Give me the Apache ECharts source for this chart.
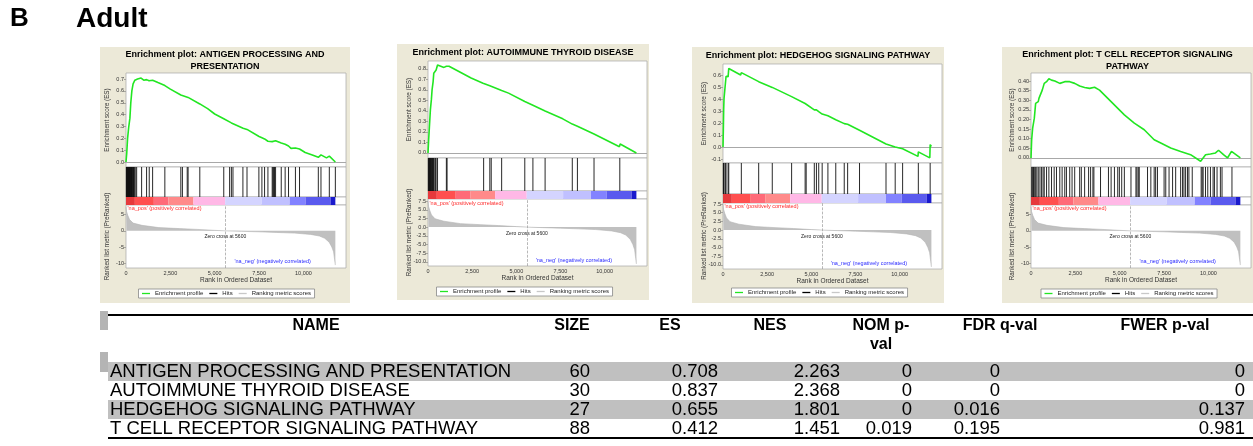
<!DOCTYPE html>
<html>
<head>
<meta charset="utf-8">
<script src="https://cdn.jsdelivr.net/npm/echarts@6/dist/echarts.min.js"></script>
<style>
html, body { margin: 0; padding: 0; background: #fff; }
#main { width: 1253px; height: 446px; }
</style>
</head>
<body>
<div id="main"></div>
<script>
// ---- data ----
var rankTicks = [0, 2500, 5000, 7500, 10000];
var listSize = 11800;
var zeroCross = 5600;
// ranked list metric (same list for all four plots)
var metricScores = [[0, 7.4], [30, 6.0], [100, 4.8], [200, 3.5], [400, 2.4], [900, 1.7], [1850, 1.0], [3000, 0.7],
  [4000, 0.45], [5000, 0.15], [5600, 0], [6500, -0.15], [7500, -0.3], [8500, -0.5], [9500, -0.7], [10400, -1.1],
  [10900, -1.6], [11200, -2.3], [11450, -3.5], [11600, -5], [11700, -6.5], [11760, -9], [11800, -10.6]];
// colour strip segment edges (rank)
var barEdges = [0, 500, 1570, 2390, 3800, 5590, 7650, 9230, 10120, 11530, 11800];
var barColors = ['#e6393c', '#ff4f4f', '#ff6a78', '#ff8a8a', '#ffb8e6', '#d4d4ff', '#c0c0ff', '#8282ff', '#5a5aee', '#1a1acc'];

var esAntigen = [[0, 0], [40, 0.07], [90, 0.2], [150, 0.29], [220, 0.37], [270, 0.5], [330, 0.6], [400, 0.66], [500, 0.69],
  [650, 0.70], [850, 0.708], [1000, 0.69], [1160, 0.695], [1300, 0.685], [1500, 0.69], [1800, 0.67], [2190, 0.645],
  [2500, 0.615], [3090, 0.565], [3180, 0.57], [3500, 0.545], [4160, 0.49], [4600, 0.45], [5000, 0.405], [5510, 0.365],
  [5940, 0.33], [6030, 0.335], [6600, 0.285], [6820, 0.275], [7500, 0.215], [7660, 0.205], [7810, 0.195], [8000, 0.175],
  [8240, 0.172], [8430, 0.18], [8750, 0.16], [8970, 0.15], [9160, 0.135], [9300, 0.115], [9550, 0.118], [9780, 0.11],
  [10100, 0.08], [10500, 0.06], [10840, 0.04], [10990, 0.06], [11300, 0.035], [11460, 0.05], [11800, 0]];
var hitsAntigen = [20, 40, 50, 60, 80, 100, 120, 140, 150, 170, 190, 200, 220, 240, 260, 280, 300, 320, 330, 360, 390, 420,
  440, 470, 520, 600, 880, 1160, 1310, 1500, 2190, 3090, 3180, 3450, 3500, 4160, 5510, 5840, 5940, 6030, 6590, 6820,
  7490, 7660, 7810, 8000, 8240, 8280, 8320, 8370, 8430, 8750, 8970, 9160, 9550, 9780, 10840, 10990, 11460, 11800];

var esThyroid = [[0, 0], [38, 0.13], [77, 0.24], [135, 0.41], [192, 0.51], [230, 0.6], [290, 0.68], [327, 0.76], [423, 0.77],
  [460, 0.79], [520, 0.785], [540, 0.837], [615, 0.835], [904, 0.815], [1000, 0.80], [1040, 0.826], [1190, 0.826],
  [2440, 0.714], [3115, 0.665], [3150, 0.67], [3500, 0.64], [3580, 0.645], [4170, 0.595], [4560, 0.57], [5480, 0.49],
  [5940, 0.455], [6630, 0.4], [7630, 0.325], [8170, 0.275], [8460, 0.255], [9400, 0.18], [10840, 0.06], [10880, 0.085],
  [11800, 0]];
var hitsThyroid = [20, 45, 60, 80, 100, 130, 150, 180, 210, 230, 260, 290, 320, 350, 420, 460, 540, 1040, 1080, 3150,
  3500, 3580, 4170, 5480, 5940, 6630, 8170, 8460, 9400, 10860];

var esHedgehog = [[0, 0], [19, 0.14], [38, 0.31], [58, 0.405], [135, 0.41], [173, 0.59], [288, 0.585], [327, 0.655],
  [1000, 0.6], [1038, 0.62], [2020, 0.545], [2040, 0.555], [2790, 0.497], [2810, 0.505], [3885, 0.42], [4650, 0.363],
  [4710, 0.37], [5170, 0.31], [5290, 0.31], [5420, 0.295], [5615, 0.275], [5940, 0.26], [6385, 0.228], [6865, 0.195],
  [7057, 0.19], [7730, 0.14], [9230, 0.025], [9750, 0.0], [9770, 0.01], [10170, -0.015], [10190, -0.005],
  [11040, -0.078], [11060, -0.04], [11710, -0.09], [11730, 0.02], [11800, 0.005]];
var hitsHedgehog = [19, 38, 58, 135, 173, 288, 327, 1038, 2020, 2790, 3885, 4650, 4710, 5170, 5290, 5420, 5615, 5940,
  6385, 6865, 7057, 7730, 9230, 9750, 10170, 11060, 11730];

var esTcell = [[0, 0], [37, 0.095], [93, 0.155], [187, 0.207], [261, 0.284], [410, 0.293], [448, 0.31], [560, 0.32],
  [634, 0.353], [746, 0.388], [877, 0.397], [1008, 0.412], [1157, 0.405], [1343, 0.40], [1623, 0.388], [1903, 0.397],
  [2183, 0.397], [2463, 0.388], [2743, 0.374], [3023, 0.367], [3303, 0.362], [3583, 0.368], [3863, 0.353], [4330, 0.31],
  [4796, 0.267], [5262, 0.224], [5822, 0.181], [6382, 0.147], [6942, 0.095], [7315, 0.078], [7875, 0.052], [8434, 0.034],
  [8994, 0.017], [9560, -0.017], [9840, 0.017], [10114, 0.021], [10400, 0.026], [10570, 0.04], [10850, 0.017],
  [11075, 0.0], [11300, 0.034], [11800, 0]];
var hitsTcell = [37, 93, 140, 187, 261, 330, 410, 504, 597, 680, 746, 877, 1008, 1157, 1306, 1437, 1623, 1754, 1903, 1997,
  2183, 2314, 2463, 2743, 2836, 3023, 3247, 3359, 3490, 3545, 3919, 4366, 4516, 4702, 4889, 4982, 5113, 5262, 5635,
  5915, 5971, 6046, 6102, 6568, 6755, 6942, 7025, 7128, 7501, 7595, 7781, 7980, 8154, 8434, 8542, 8621, 8714, 8823,
  8901, 9088, 9591, 9647, 9703, 9835, 9964, 10114, 10263, 10340, 10487, 10674, 10767, 11327];

var esTicksAntigen = [0, 0.1, 0.2, 0.3, 0.4, 0.5, 0.6, 0.7];
var esTicksThyroid = [0, 0.1, 0.2, 0.3, 0.4, 0.5, 0.6, 0.7, 0.8];
var esTicksHedgehog = [-0.1, 0, 0.1, 0.2, 0.3, 0.4, 0.5, 0.6];
var esTicksTcell = [0, 0.05, 0.1, 0.15, 0.2, 0.25, 0.3, 0.35, 0.4];
var metricTicksWide = [5, 0, -5, -10];
var metricTicksFine = [7.5, 5, 2.5, 0, -2.5, -5, -7.5, -10];

var tableHead = ['NAME', 'SIZE', 'ES', 'NES', 'NOM p-\nval', 'FDR q-val', 'FWER p-val'];
var tableNames = ['ANTIGEN PROCESSING AND PRESENTATION', 'AUTOIMMUNE THYROID DISEASE', 'HEDGEHOG SIGNALING PATHWAY', 'T CELL RECEPTOR SIGNALING PATHWAY'];
var tableSize = [60, 30, 27, 88];
var tableES = [0.708, 0.837, 0.655, 0.412];
var tableNES = [2.263, 2.368, 1.801, 1.451];
var tableNom = [0, 0, 0, 0.019];
var tableFdr = [0, 0, 0.016, 0.195];
var tableFwer = [0, 0, 0.137, 0.981];

// ---- layout ----
var FONT = '"Liberation Sans", Arial, Helvetica, sans-serif';
var BEIGE = '#ECE9D8';
var GREEN = '#22e622';
var rankMax = 12400;

var panels = [
  { title: ['Enrichment plot: ANTIGEN PROCESSING AND', 'PRESENTATION'], es: esAntigen, hits: hitsAntigen,
    esTicks: esTicksAntigen, esDec: 1, esMin: -0.042, esMax: 0.751, mTicks: metricTicksWide, mDec: 0, mMin: -11.5, mMax: 8,
    box: [100, 47, 250, 256], left: 126, width: 220, esG: [73, 94], hitG: [167, 30], barG: [197, 8], metG: [205, 63],
    titleY: [55, 67], legendTop: 289 },
  { title: ['Enrichment plot: AUTOIMMUNE THYROID DISEASE'], es: esThyroid, hits: hitsThyroid,
    esTicks: esTicksThyroid, esDec: 1, esMin: -0.048, esMax: 0.876, mTicks: metricTicksFine, mDec: 1, mMin: -11.2, mMax: 8.1,
    box: [397, 44, 252, 256], left: 428, width: 219, esG: [61, 97], hitG: [158, 33], barG: [191, 8], metG: [199, 67],
    titleY: [53], legendTop: 287 },
  { title: ['Enrichment plot: HEDGEHOG SIGNALING PATHWAY'], es: esHedgehog, hits: hitsHedgehog,
    esTicks: esTicksHedgehog, esDec: 1, esMin: -0.133, esMax: 0.692, mTicks: metricTicksFine, mDec: 1, mMin: -11.2, mMax: 7.8,
    box: [692, 47, 252, 256], left: 723, width: 219, esG: [64, 99], hitG: [163, 31], barG: [194, 9], metG: [203, 66],
    titleY: [56], legendTop: 288 },
  { title: ['Enrichment plot: T CELL RECEPTOR SIGNALING', 'PATHWAY'], es: esTcell, hits: hitsTcell,
    esTicks: esTicksTcell, esDec: 2, esMin: -0.047, esMax: 0.442, mTicks: metricTicksWide, mDec: 0, mMin: -11.5, mMax: 8,
    box: [1002, 47, 251, 256], left: 1031, width: 220, esG: [73, 94], hitG: [167, 30], barG: [197, 8], metG: [205, 63],
    titleY: [55, 67], legendTop: 289 }
];

function fmtRank(v) { return v.toLocaleString('en-US'); }

var barData = [];
for (var k = 0; k < barEdges.length - 1; k++) barData.push([barEdges[k], barEdges[k + 1]]);

var option = {
  animation: false,
  backgroundColor: '#fff',
  textStyle: { fontFamily: FONT },
  grid: [], xAxis: [], yAxis: [], series: [], legend: [],
  graphic: { elements: [] }
};
var gfx = option.graphic.elements;

function txt(x, y, text, font, extra) {
  var el = { type: 'text', x: x, y: y, z: 20, silent: true,
    style: { text: text, font: font, fill: '#000', align: 'left', verticalAlign: 'middle',
      textAlign: 'left', textVerticalAlign: 'middle' } };
  if (extra) for (var key in extra) {
    if (key === 'rotation') el.rotation = extra[key];
    else { el.style[key] = extra[key]; }
    if (key === 'align') el.style.textAlign = extra[key];
  }
  return el;
}

gfx.push(txt(10, 19, 'B', 'bold 26px ' + FONT));
gfx.push(txt(76, 19, 'Adult', 'bold 28px ' + FONT));

var lineDash = { color: '#e0e0e0', type: 'dashed', width: 0.6 };

panels.forEach(function (p, i) {
  var b = p.box, cx = b[0] + b[2] / 2;
  gfx.push({ type: 'rect', z: -10, silent: true, shape: { x: b[0], y: b[1], width: b[2], height: b[3] }, style: { fill: BEIGE } });
  p.title.forEach(function (t, n) {
    gfx.push(txt(cx, p.titleY[n], t, 'bold 9px ' + FONT, { align: 'center' }));
  });
  var nameX = p.left - 19;
  gfx.push(txt(nameX, p.esG[0] + p.esG[1] / 2, 'Enrichment score (ES)', '6.3px ' + FONT,
    { align: 'center', rotation: Math.PI / 2, fill: '#333' }));
  gfx.push(txt(nameX, p.metG[0] + p.metG[1] / 2, 'Ranked list metric (PreRanked)', '6.3px ' + FONT,
    { align: 'center', rotation: Math.PI / 2, fill: '#333' }));
  gfx.push(txt(p.left + p.width / 2, p.metG[0] + p.metG[1] + 12, 'Rank in Ordered Dataset', '6.5px ' + FONT,
    { align: 'center', fill: '#333' }));

  var rows = [p.esG, p.hitG, p.barG, p.metG];
  rows.forEach(function (r, j) {
    var idx = i * 4 + j;
    option.grid.push({ left: p.left, top: r[0], width: p.width, height: r[1], show: true, backgroundColor: '#fff',
      borderColor: '#a8a8a8', borderWidth: 0.7, z: 1, containLabel: false, outerBoundsMode: 'none' });
    option.xAxis.push({ gridIndex: idx, type: 'value', min: 0, max: rankMax,
      axisLine: { show: false },
      axisTick: { show: j === 3, customValues: rankTicks, length: 2, lineStyle: { color: '#777', width: 0.6 } },
      axisLabel: { show: j === 3, customValues: rankTicks, formatter: fmtRank, fontSize: 5.5, margin: 2, color: '#333' },
      splitLine: { show: j === 0 || j === 3, lineStyle: lineDash } });
    var y = { gridIndex: idx, type: 'value', axisLine: { show: false } };
    if (j === 0 || j === 3) {
      var ticks = j === 0 ? p.esTicks : p.mTicks, dec = j === 0 ? p.esDec : p.mDec;
      y.min = j === 0 ? p.esMin : p.mMin;
      y.max = j === 0 ? p.esMax : p.mMax;
      y.axisTick = { show: true, customValues: ticks, length: 2, lineStyle: { color: '#777', width: 0.6 } };
      y.axisLabel = { customValues: ticks, fontSize: 5.5, margin: 2, color: '#333',
        formatter: (function (d) { return function (v) { return v.toFixed(d); }; })(dec) };
      y.splitLine = { show: true, lineStyle: lineDash };
    } else {
      y.min = 0; y.max = 1;
      y.axisTick = { show: false }; y.axisLabel = { show: false }; y.splitLine = { show: false };
    }
    option.yAxis.push(y);
  });

  var base = i * 4;
  option.series.push({
    type: 'line', name: 'Enrichment profile', xAxisIndex: base, yAxisIndex: base, data: p.es,
    showSymbol: false, symbol: 'none', z: 5,
    lineStyle: { color: GREEN, width: 1.6 }, itemStyle: { color: GREEN },
    markLine: { silent: true, symbol: ['none', 'none'], label: { show: false }, animation: false,
      lineStyle: { color: '#a8a8a8', width: 1, type: 'solid' }, data: [{ yAxis: 0 }] }
  });
  option.series.push({
    type: 'custom', name: 'Hits', xAxisIndex: base + 1, yAxisIndex: base + 1,
    data: p.hits.map(function (r) { return [r, 1]; }),
    encode: { x: 0, y: 1 }, itemStyle: { color: '#000' },
    renderItem: function (params, api) {
      var a = api.coord([api.value(0), 1]);
      var c = api.coord([api.value(0), 0]);
      return { type: 'line', shape: { x1: a[0], y1: a[1], x2: c[0], y2: c[1] }, style: { stroke: '#111', lineWidth: 0.9 } };
    }
  });
  option.series.push({
    type: 'custom', xAxisIndex: base + 2, yAxisIndex: base + 2, data: barData,
    encode: { x: [0, 1] },
    renderItem: function (params, api) {
      var a = api.coord([api.value(0), 1]);
      var c = api.coord([api.value(1), 0]);
      return { type: 'rect', shape: { x: a[0], y: a[1], width: c[0] - a[0], height: c[1] - a[1] },
        style: { fill: barColors[params.dataIndex] } };
    }
  });
  option.series.push({
    type: 'line', name: 'Ranking metric scores', xAxisIndex: base + 3, yAxisIndex: base + 3, data: metricScores,
    showSymbol: false, symbol: 'none', z: 3,
    lineStyle: { color: '#b4b4b4', width: 0.6 }, itemStyle: { color: '#c8c8c8' },
    areaStyle: { color: '#c0c0c0', opacity: 1 },
    markLine: { silent: true, symbol: ['none', 'none'], label: { show: false }, animation: false,
      lineStyle: { color: '#999', width: 0.7, type: 'dashed' }, data: [{ xAxis: zeroCross }] },
    markPoint: { silent: true, symbol: 'rect', symbolSize: 1, itemStyle: { color: 'rgba(0,0,0,0)' },
      data: [
        { coord: [zeroCross, -1.8], label: { show: true, position: 'inside', formatter: 'Zero cross at ' + zeroCross, fontSize: 5, color: '#222' } },
        { coord: [60, 6.8], label: { show: true, position: 'right', distance: 0, formatter: "'na_pos' (positively correlated)", fontSize: 5.5, color: '#ff2a2a' } },
        { coord: [10450, -9.6], label: { show: true, position: 'left', distance: 0, formatter: "'na_neg' (negatively correlated)", fontSize: 5.5, color: '#2a2aff' } }
      ] }
  });

  option.legend.push({
    left: cx - 86.5, top: p.legendTop, orient: 'horizontal',
    data: ['Enrichment profile', 'Hits', 'Ranking metric scores'],
    icon: 'rect', itemWidth: 8, itemHeight: 1.3, itemGap: 6,
    padding: [1.5, 3.5], borderColor: '#888', borderWidth: 0.8, backgroundColor: '#fff',
    textStyle: { fontSize: 6, color: '#222', fontFamily: FONT }, selectedMode: false
  });
});

// ---- table ----
var tTop = 315, tBottom = 438, tLeft = 108, tRight = 1253, rowTop = 362, rowH = 19;
gfx.push({ type: 'rect', silent: true, shape: { x: 100, y: 311, width: 8, height: 19 }, style: { fill: '#b4b4b4' } });
gfx.push({ type: 'rect', silent: true, shape: { x: 100, y: 352, width: 8, height: 20 }, style: { fill: '#b4b4b4' } });
for (var r = 0; r < tableNames.length; r += 2) {
  gfx.push({ type: 'rect', silent: true, shape: { x: tLeft, y: rowTop + r * rowH, width: tRight - tLeft, height: rowH }, style: { fill: '#c0c0c0' } });
}
gfx.push({ type: 'line', silent: true, shape: { x1: tLeft, y1: tTop, x2: tRight, y2: tTop }, style: { stroke: '#000', lineWidth: 2 } });
gfx.push({ type: 'line', silent: true, shape: { x1: tLeft, y1: tBottom, x2: tRight, y2: tBottom }, style: { stroke: '#000', lineWidth: 2 } });

var headX = [316, 572, 670, 770, 881, 1000, 1165];
var valX = [110, 590, 718, 840, 912, 1000, 1245];
var cols = [tableNames, tableSize, tableES, tableNES, tableNom, tableFdr, tableFwer];
tableHead.forEach(function (h, c) {
  h.split('\n').forEach(function (line, n) {
    gfx.push(txt(headX[c], 326 + n * 19, line, 'bold 16px ' + FONT, { align: 'center' }));
  });
  cols[c].forEach(function (v, r) {
    gfx.push(txt(valX[c], rowTop + r * rowH + rowH / 2 + 0.5, String(v), '18.5px ' + FONT, { align: c === 0 ? 'left' : 'right' }));
  });
});

var chart = echarts.init(document.getElementById('main'), null, { renderer: 'canvas', width: 1253, height: 446 });
chart.setOption(option);
</script>
</body>
</html>
